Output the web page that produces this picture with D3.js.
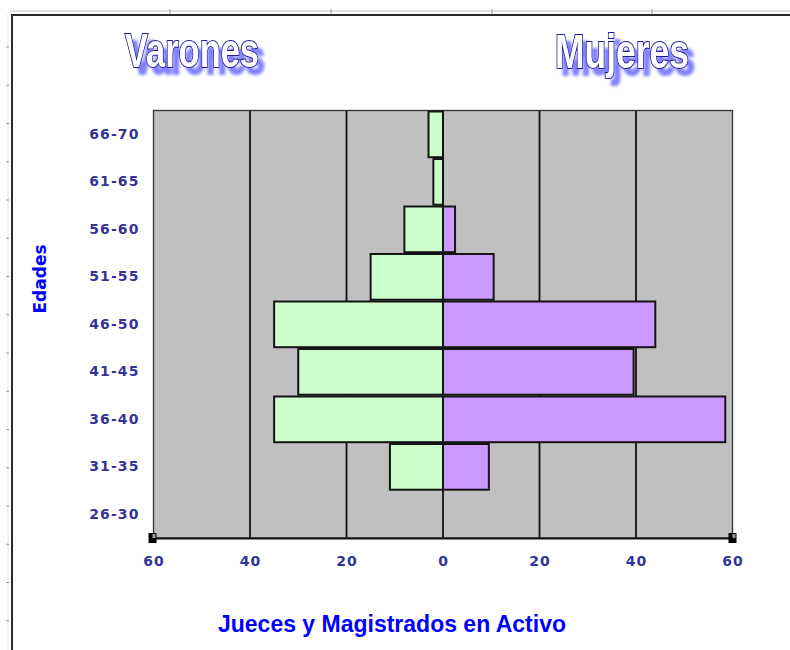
<!DOCTYPE html>
<html>
<head>
<meta charset="utf-8">
<script src="https://cdn.jsdelivr.net/npm/d3@7"></script>
<style>
  html, body { margin: 0; padding: 0; background: #ffffff; }
  svg { display: block; }
</style>
</head>
<body>
<svg id="chart" width="790" height="650"></svg>
<script>
// Age groups, top to bottom
const edades = ["66-70", "61-65", "56-60", "51-55", "46-50", "41-45", "36-40", "31-35", "26-30"];
// Judges and magistrates in active service per age group
const varones = [3, 2, 8, 15, 35, 30, 35, 11, null];
const mujeres = [null, 0, 2.5, 10.5, 44, 39.5, 58.5, 9.5, null];
// Axis ticks (shown as absolute values on both sides)
const ticks = [-60, -40, -20, 0, 20, 40, 60];

const svg = d3.select("#chart");

// Sheet frame
svg.append("line").attr("x1", 10).attr("x2", 790).attr("y1", 11).attr("y2", 11)
  .attr("stroke", "#c8c8c8").attr("stroke-width", 1);
svg.append("line").attr("x1", 11).attr("x2", 790).attr("y1", 15).attr("y2", 15)
  .attr("stroke", "#2a2a2a").attr("stroke-width", 2);
svg.append("line").attr("x1", 12).attr("x2", 12).attr("y1", 14).attr("y2", 650)
  .attr("stroke", "#2a2a2a").attr("stroke-width", 2);
svg.append("line").attr("x1", 8).attr("x2", 8).attr("y1", 14).attr("y2", 650)
  .attr("stroke", "#e2e2e2").attr("stroke-width", 1);
svg.selectAll(".rowmark").data(d3.range(47, 650, 38.25)).join("line")
  .attr("x1", 6).attr("x2", 9).attr("y1", d => d).attr("y2", d => d)
  .attr("stroke", "#9a9a9a").attr("stroke-width", 1);
svg.selectAll(".colmark").data([170, 331, 492, 652]).join("line")
  .attr("x1", d => d).attr("x2", d => d).attr("y1", 9).attr("y2", 14)
  .attr("stroke", "#9a9a9a").attr("stroke-width", 1);

// Plot area
const plotL = 153.5, plotR = 732.5, plotT = 110.5, plotB = 538;
const x = d3.scaleLinear().domain([-60, 60]).range([plotL, plotR]);
const y = d3.scaleBand().domain(edades).range([plotT, plotB]).padding(0);
const bw = y.bandwidth();

svg.append("rect").attr("x", plotL).attr("y", plotT)
  .attr("width", plotR - plotL).attr("height", plotB - plotT)
  .attr("fill", "#c0c0c0");

// Vertical gridlines
svg.selectAll(".grid").data(ticks.slice(1, -1)).join("line")
  .attr("x1", d => x(d)).attr("x2", d => x(d))
  .attr("y1", plotT).attr("y2", plotB)
  .attr("stroke", "#111").attr("stroke-width", 1.8);

// Plot border
svg.append("rect").attr("x", plotL).attr("y", plotT)
  .attr("width", plotR - plotL).attr("height", plotB - plotT)
  .attr("fill", "none").attr("stroke", "#333").attr("stroke-width", 1.3);

const rows = edades.map((e, i) => ({ e, v: varones[i], m: mujeres[i] }));
// keep zero-length bars visible as an outline
const span = w => Math.max(w, 0.01);

// Men to the left of zero
svg.selectAll(".bar-v").data(rows.filter(d => d.v !== null)).join("rect")
  .attr("x", d => x(-d.v)).attr("y", d => y(d.e) + 1)
  .attr("width", d => span(x(0) - x(-d.v))).attr("height", bw - 1.8)
  .attr("fill", "#ccffcc").attr("stroke", "#151515").attr("stroke-width", 2);

// Women to the right of zero
svg.selectAll(".bar-m").data(rows.filter(d => d.m !== null)).join("rect")
  .attr("x", x(0)).attr("y", d => y(d.e) + 1)
  .attr("width", d => span(x(d.m) - x(0))).attr("height", bw - 1.8)
  .attr("fill", "#cc99ff").attr("stroke", "#151515").attr("stroke-width", 2);

// Bottom axis
const xAxis = d3.axisBottom(x).tickValues(ticks).tickSize(0).tickPadding(18)
  .tickFormat(d => Math.abs(d));
const gx = svg.append("g").attr("transform", `translate(0,${plotB})`).call(xAxis);
gx.select(".domain").attr("stroke", "#111").attr("stroke-width", 2);
gx.selectAll("text")
  .attr("fill", "#333399").attr("font-family", "DejaVu Sans, Verdana, sans-serif")
  .attr("font-weight", "bold").attr("font-size", 14).attr("letter-spacing", 1);

// Selection handles at the axis ends
[plotL - 5, plotR - 4].forEach(hx => {
  svg.append("rect").attr("x", hx).attr("y", plotB - 5).attr("width", 8).attr("height", 10)
    .attr("fill", "#000");
  svg.append("rect").attr("x", hx + 4).attr("y", plotB - 4).attr("width", 3).attr("height", 4)
    .attr("fill", "#9a9a9a");
});

// Left axis labels
const yAxis = d3.axisLeft(y).tickSize(0).tickPadding(14);
const gy = svg.append("g").attr("transform", `translate(${plotL},0)`).call(yAxis);
gy.select(".domain").remove();
gy.selectAll("text")
  .attr("fill", "#333399").attr("font-family", "DejaVu Sans, Verdana, sans-serif")
  .attr("font-weight", "bold").attr("font-size", 14).attr("letter-spacing", 1.1);

// Axis titles
svg.append("text").attr("transform", "translate(46,279) rotate(-90)")
  .attr("text-anchor", "middle").attr("fill", "#0000ff")
  .attr("font-family", "DejaVu Sans, Verdana, sans-serif").attr("font-weight", "bold")
  .attr("font-size", 17).text("Edades");

svg.append("text").attr("x", 218).attr("y", 632)
  .attr("textLength", 348).attr("lengthAdjust", "spacingAndGlyphs")
  .attr("fill", "#0000ff")
  .attr("font-family", "Liberation Sans Narrow, Liberation Sans, Arial, sans-serif")
  .attr("font-weight", "bold").attr("font-size", 23)
  .text("Jueces y Magistrados en Activo");

// Outlined headline words with a soft blue drop shadow
const defs = svg.append("defs");
const f = defs.append("filter").attr("id", "glow").attr("x", "-10%").attr("y", "-20%")
  .attr("width", "125%").attr("height", "150%");
f.append("feGaussianBlur").attr("in", "SourceAlpha").attr("stdDeviation", 1.7).attr("result", "b");
f.append("feOffset").attr("in", "b").attr("dx", 6).attr("dy", 7).attr("result", "o");
f.append("feFlood").attr("flood-color", "#8080ff").attr("result", "c");
f.append("feComposite").attr("in", "c").attr("in2", "o").attr("operator", "in").attr("result", "s");
const fm = f.append("feMerge");
fm.append("feMergeNode").attr("in", "s");
fm.append("feMergeNode").attr("in", "SourceGraphic");

const heads = [
  { t: "Varones", x: 125, y: 67 },
  { t: "Mujeres", x: 555, y: 68 }
];
svg.selectAll(".head").data(heads).join("text")
  .attr("x", d => d.x).attr("y", d => d.y)
  .attr("textLength", 134).attr("lengthAdjust", "spacingAndGlyphs")
  .attr("font-family", "Liberation Sans Narrow, Liberation Sans, Arial, sans-serif")
  .attr("font-weight", "bold").attr("font-size", 49)
  .attr("fill", "#ffffff").attr("stroke", "#1c1c9a").attr("stroke-width", 2.2)
  .attr("paint-order", "stroke").attr("filter", "url(#glow)")
  .text(d => d.t);
</script>
</body>
</html>
